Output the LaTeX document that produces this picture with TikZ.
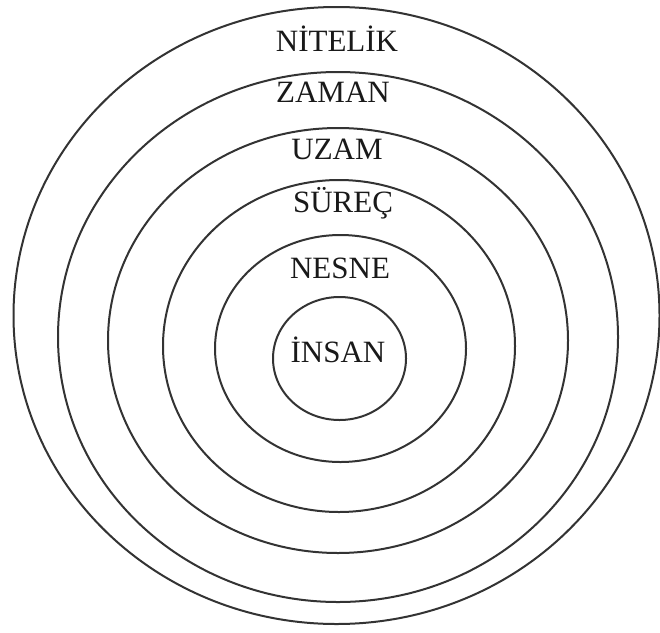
\documentclass[tikz,border=0pt]{standalone}
\usepackage{fontspec}
\setmainfont{Liberation Serif}
\usetikzlibrary{calc}

\tikzset{
  ring/.style={draw=black!80, line width=2pt},
  lbl/.style={font=\fontsize{31}{36}\selectfont, anchor=base, inner sep=0pt, text=black!90}
}

\begin{document}
\begin{tikzpicture}[x=1pt, y=-1pt]
    \useasboundingbox (0,0) rectangle (660,632);

    % Rings, outer to inner
    \foreach \cx/\cy/\rx/\ry in {336.5/315.5/323/308.5, 338/337/280/265,
        338/340.5/230/212.5, 339/346/176/166, 340.5/348.5/125.5/113.5, 339.5/358.5/66.5/61.5}
        \draw[ring] (\cx,\cy) ellipse [x radius=\rx, y radius=\ry];

    % Labels
    \node[lbl] (nitelik) at (337,51) {NİTELİK};
    \node[lbl] (zaman) at (333,102) {ZAMAN};
    \node[lbl] (uzam) at (337,159) {UZAM};
    \node[lbl] (surec) at (343,212) {SÜREÇ};
    \node[lbl] (nesne) at (340,278) {NESNE};
    \node[lbl] (insan) at (338,362) {İNSAN};
\end{tikzpicture}
\end{document}
